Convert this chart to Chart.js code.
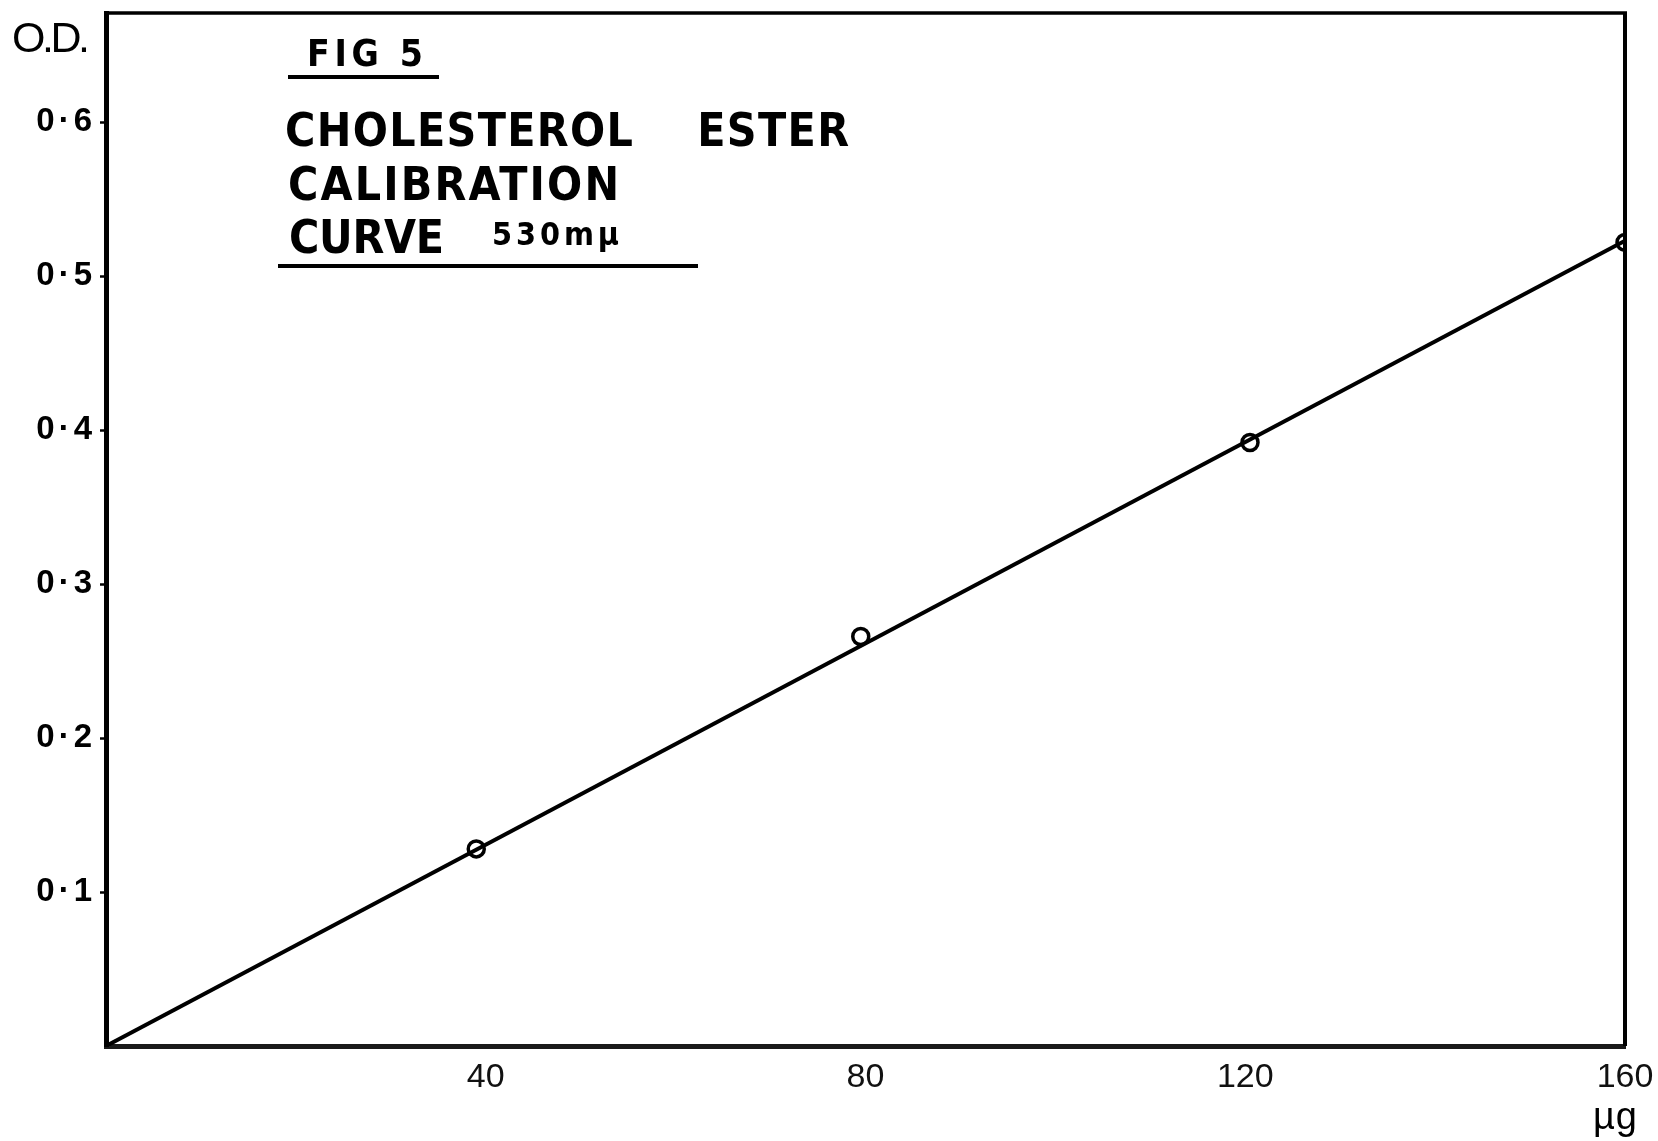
<!DOCTYPE html>
<html>
<head>
<meta charset="utf-8">
<script src="https://cdn.jsdelivr.net/npm/chart.js@4/dist/chart.umd.min.js"></script>
<style>
  html, body { margin: 0; padding: 0; background: #ffffff; }
  #wrap { width: 1658px; height: 1141px; }
</style>
</head>
<body>
<div id="wrap"><canvas id="c" width="1658" height="1141"></canvas></div>
<script>
// ---- data ----
const massUg = [39, 79.5, 120.5, 160];          // µg cholesterol ester
const odValues = [0.128, 0.266, 0.392, 0.522];  // optical density at 530 mµ
const fitMassUg = [0, 160];                     // drawn calibration line ends
const fitOD = [0, 0.523];
const xTickValues = [40, 80, 120, 160];
const yTickValues = [0.1, 0.2, 0.3, 0.4, 0.5, 0.6];
const yMin = 0, yMax = 0.671, xMin = 0, xMax = 160;

const NARROW = "'Liberation Sans Narrow', 'DejaVu Sans Condensed', 'Roboto Condensed', sans-serif";
const SANS = "'Liberation Sans', Arial, sans-serif";

function spacedText(ctx, text, x, yBase, width, font) {
  ctx.save();
  ctx.font = font;
  ctx.letterSpacing = '0px';
  ctx.textBaseline = 'alphabetic';
  ctx.textAlign = 'left';
  const w0 = ctx.measureText(text).width;
  const n = text.length;
  const sp = n > 1 ? (width - w0) / (n - 1) : 0;
  ctx.letterSpacing = sp.toFixed(2) + 'px';
  ctx.fillStyle = '#000';
  ctx.fillText(text, x, yBase);
  ctx.restore();
}

const labelSpacing = {
  id: 'labelSpacing',
  beforeDraw(chart) {
    const s = chart.scales.y;
    if (s && !s._spacedLabels) {
      const orig = s.drawLabels;
      s.drawLabels = function (ca) {
        const c = this.ctx;
        const prev = c.letterSpacing;
        c.letterSpacing = '4px';
        orig.call(this, ca);
        c.letterSpacing = prev;
      };
      s._spacedLabels = true;
    }
  }
};

const annotations = {
  id: 'annotations',
  afterDraw(chart) {
    const ctx = chart.ctx;
    const a = chart.chartArea;
    ctx.save();
    ctx.strokeStyle = '#000';
    ctx.lineCap = 'butt';
    // top frame
    ctx.lineWidth = 3.5;
    ctx.beginPath();
    ctx.moveTo(a.left - 2, a.top);
    ctx.lineTo(a.right + 2, a.top);
    ctx.stroke();
    // right frame
    ctx.lineWidth = 4;
    ctx.beginPath();
    ctx.moveTo(a.right, a.top);
    ctx.lineTo(a.right, a.bottom);
    ctx.stroke();
    ctx.restore();

    // axis captions
    spacedText(ctx, 'O.D.', 12, 52, 78, '43px ' + SANS);
    spacedText(ctx, 'µg', 1593, 1129, 44, '38px ' + SANS);

    // figure title block
    spacedText(ctx, 'FIG 5', 307, 66, 116, 'bold 37px ' + NARROW);
    spacedText(ctx, 'CHOLESTEROL    ESTER', 285, 146, 564, 'bold 46px ' + NARROW);
    spacedText(ctx, 'CALIBRATION', 288, 200, 331, 'bold 46px ' + NARROW);
    spacedText(ctx, 'CURVE', 289, 253, 155, 'bold 46px ' + NARROW);
    spacedText(ctx, '530mµ', 492, 245, 127, 'bold 32px ' + NARROW);

    ctx.save();
    ctx.fillStyle = '#000';
    ctx.fillRect(288, 75, 151, 4);
    ctx.fillRect(278, 264, 420, 4);
    ctx.restore();
  }
};

new Chart(document.getElementById('c'), {
  type: 'scatter',
  data: {
    datasets: [
      {
        label: 'Calibration line',
        data: fitMassUg.map((x, i) => ({ x: x, y: fitOD[i] })),
        showLine: true,
        borderColor: '#000',
        borderWidth: 4,
        pointRadius: 0,
        fill: false,
        order: 2
      },
      {
        label: 'Standards',
        data: massUg.map((x, i) => ({ x: x, y: odValues[i] })),
        showLine: false,
        pointStyle: 'circle',
        pointRadius: 8,
        pointBorderWidth: 3.5,
        pointBorderColor: '#000',
        pointBackgroundColor: 'rgba(255,255,255,0)',
        order: 1
      }
    ]
  },
  options: {
    responsive: false,
    animation: false,
    devicePixelRatio: 1,
    layout: { padding: { top: 13, right: 33, left: 0, bottom: 0 } },
    plugins: { legend: { display: false }, title: { display: false }, tooltip: { enabled: false } },
    scales: {
      x: {
        type: 'linear',
        min: xMin, max: xMax,
        afterFit(scale) { scale.height = 95; scale.paddingLeft = 0; scale.paddingRight = 0; },
        afterBuildTicks(scale) { scale.ticks = xTickValues.map(v => ({ value: v })); },
        grid: { display: true, drawOnChartArea: false, drawTicks: false, color: '#000' },
        border: { display: true, color: '#1a1a1a', width: 5 },
        ticks: {
          color: '#111',
          padding: 11,
          maxRotation: 0,
          autoSkip: false,
          font: { family: SANS, size: 34, weight: 'normal' },
          callback: v => String(v)
        }
      },
      y: {
        type: 'linear',
        min: yMin, max: yMax,
        afterFit(scale) { scale.width = 106; scale.paddingTop = 0; scale.paddingBottom = 0; },
        afterBuildTicks(scale) { scale.ticks = yTickValues.map(v => ({ value: v })); },
        grid: { display: true, drawOnChartArea: false, drawTicks: true, tickLength: 6, tickWidth: 2.5, color: '#000' },
        border: { display: true, color: '#000', width: 5 },
        ticks: {
          color: '#000',
          padding: 4,
          autoSkip: false,
          font: { family: SANS, size: 33, weight: 'bold' },
          callback: v => v.toFixed(1).replace('.', '·')
        }
      }
    }
  },
  plugins: [labelSpacing, annotations]
});
</script>
</body>
</html>
